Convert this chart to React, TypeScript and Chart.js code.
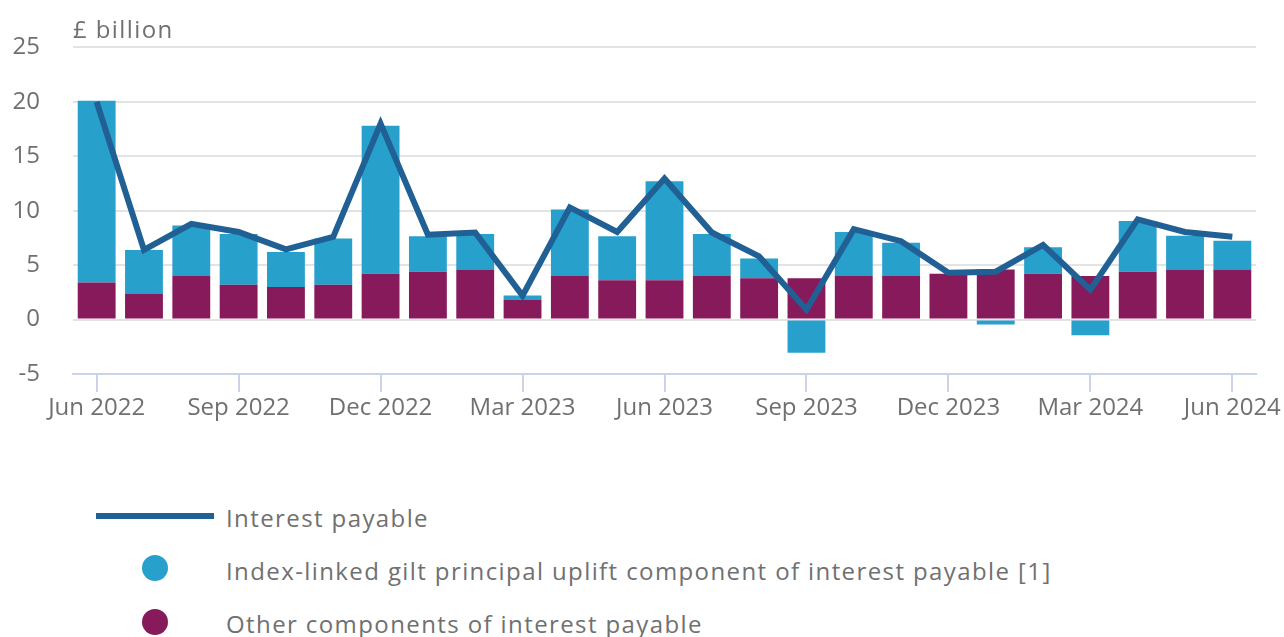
import React, { useEffect, useRef } from "react";
import { Chart, registerables } from "chart.js";

Chart.register(...registerables);

const months = [
  "Jun 2022", "Jul 2022", "Aug 2022", "Sep 2022", "Oct 2022", "Nov 2022", "Dec 2022",
  "Jan 2023", "Feb 2023", "Mar 2023", "Apr 2023", "May 2023", "Jun 2023", "Jul 2023",
  "Aug 2023", "Sep 2023", "Oct 2023", "Nov 2023", "Dec 2023", "Jan 2024", "Feb 2024",
  "Mar 2024", "Apr 2024", "May 2024", "Jun 2024",
];

const otherComponents = [
  3.4, 2.4, 4.0, 3.2, 3.0, 3.2, 4.2, 4.4, 4.6, 1.8, 4.0, 3.6, 3.6, 4.0, 3.8, 3.8, 4.0,
  4.0, 4.2, 4.6, 4.2, 4.0, 4.4, 4.6, 4.6,
];

const indexLinkedUplift = [
  16.7, 4.0, 4.65, 4.65, 3.2, 4.25, 13.6, 3.25, 3.25, 0.4, 6.1, 4.05, 9.1, 3.85, 1.8,
  -3.05, 4.05, 3.05, 0, -0.45, 2.45, -1.45, 4.65, 3.1, 2.65,
];

const interestPayable = [
  20.0, 6.4, 8.8, 8.05, 6.45, 7.6, 18.0, 7.8, 8.0, 2.2, 10.3, 8.05, 12.95, 8.0, 5.8,
  0.9, 8.3, 7.2, 4.3, 4.4, 6.85, 2.75, 9.2, 8.05, 7.6,
];

const yTicks = [-5, 0, 5, 10, 15, 20, 25];

const FONT = '"Open Sans", sans-serif';
const GREY = "#707071";
const GRID = "#e3e3e4";
const AXIS = "#c9d4ea";
const DARK_BLUE = "#206095";
const LIGHT_BLUE = "#27a0cc";
const PURPLE = "#871a5b";

export default function App() {
  const ref = useRef<HTMLCanvasElement>(null);

  useEffect(() => {
    document.body.style.margin = "0";
    let chart: Chart | null = null;
    let cancelled = false;
    const make = () => {
      if (cancelled || !ref.current) return;
      chart = new Chart(ref.current, {
        type: "bar",
        data: {
          labels: months,
          datasets: [
            {
              type: "line",
              label: "Interest payable",
              data: interestPayable,
              borderColor: DARK_BLUE,
              backgroundColor: DARK_BLUE,
              borderWidth: 6,
              pointRadius: 0,
              tension: 0,
              fill: false,
              stack: "line",
              order: 0,
            } as any,
            {
              type: "bar",
              label: "Other components of interest payable",
              data: otherComponents,
              backgroundColor: PURPLE,
              stack: "bars",
              order: 1,
            },
            {
              type: "bar",
              label: "Index-linked gilt principal uplift component of interest payable [1]",
              data: indexLinkedUplift,
              backgroundColor: LIGHT_BLUE,
              stack: "bars",
              order: 1,
            },
          ],
        },
        options: {
          responsive: false,
          animation: false,
          layout: { padding: { top: 44, right: 28, left: 0, bottom: 0 } },
          datasets: { bar: { categoryPercentage: 1, barPercentage: 0.8 } },
          plugins: {
            legend: { display: false },
            tooltip: { enabled: false },
            title: { display: false },
          },
          scales: {
            x: {
              stacked: true,
              offset: true,
              grid: {
                offset: false,
                drawOnChartArea: false,
                drawTicks: true,
                tickLength: 18,
                lineWidth: 2,
                color: (c: any) => (c.index % 3 === 0 ? AXIS : "rgba(0,0,0,0)"),
              },
              border: { display: true, color: AXIS, width: 2 },
              ticks: {
                autoSkip: false,
                maxRotation: 0,
                minRotation: 0,
                padding: 2,
                color: GREY,
                font: { family: FONT, size: 24 },
                callback: (_v: any, i: number) => (i % 3 === 0 ? months[i] : ""),
              },
              afterFit: (s: any) => {
                s.height = 66;
              },
            },
            y: {
              stacked: true,
              min: yTicks[0],
              max: yTicks[yTicks.length - 1],
              afterBuildTicks: (s: any) => {
                s.ticks = yTicks.map((v) => ({ value: v }));
              },
              ticks: {
                padding: 33,
                color: GREY,
                font: { family: FONT, size: 24 },
              },
              grid: {
                drawTicks: false,
                lineWidth: 2,
                color: (c: any) =>
                  c.tick && c.tick.value === yTicks[0] ? "rgba(0,0,0,0)" : GRID,
              },
              border: { display: false },
              afterFit: (s: any) => {
                s.width = 73;
              },
            },
          },
        } as any,
      });
    };
    const fonts = (document as any).fonts;
    if (fonts && fonts.load) {
      fonts.load('24px "Open Sans"').then(make, make);
    } else {
      make();
    }
    return () => {
      cancelled = true;
      if (chart) chart.destroy();
    };
  }, []);

  const text: React.CSSProperties = {
    position: "absolute",
    fontFamily: FONT,
    fontSize: 24,
    lineHeight: "30px",
    letterSpacing: "1.4px",
    color: GREY,
    whiteSpace: "nowrap",
  };

  return (
    <div
      style={{
        position: "relative",
        width: 1284,
        height: 637,
        overflow: "hidden",
        background: "#ffffff",
      }}
    >
      <canvas
        ref={ref}
        width={1284}
        height={440}
        style={{ position: "absolute", left: 0, top: 0, width: 1284, height: 440 }}
      />
      <div style={{ ...text, left: 73, top: 14 }}>£ billion</div>

      <div
        style={{
          position: "absolute",
          left: 96,
          top: 513,
          width: 118,
          height: 6,
          background: DARK_BLUE,
        }}
      />
      <div style={{ ...text, left: 226, top: 503 }}>Interest payable</div>

      <div
        style={{
          position: "absolute",
          left: 142,
          top: 555,
          width: 26,
          height: 26,
          borderRadius: "50%",
          background: LIGHT_BLUE,
        }}
      />
      <div style={{ ...text, left: 226, top: 556 }}>
        Index-linked gilt principal uplift component of interest payable [1]
      </div>

      <div
        style={{
          position: "absolute",
          left: 142,
          top: 609,
          width: 26,
          height: 26,
          borderRadius: "50%",
          background: PURPLE,
        }}
      />
      <div style={{ ...text, left: 226, top: 609 }}>Other components of interest payable</div>
    </div>
  );
}
